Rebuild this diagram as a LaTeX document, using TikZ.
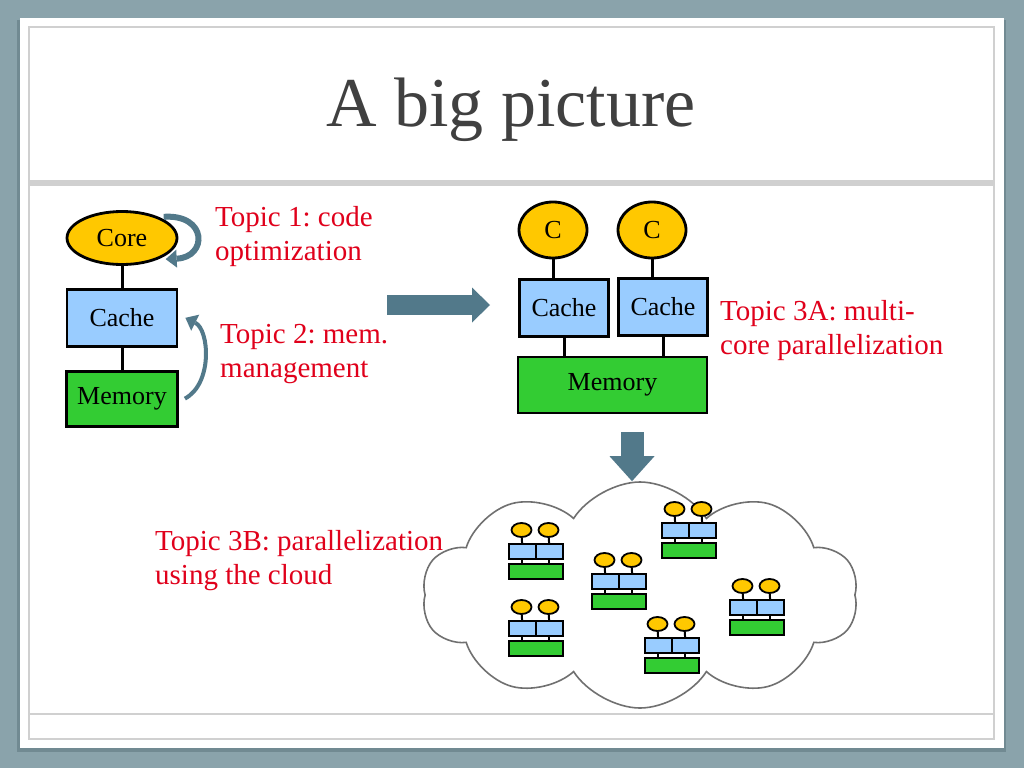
\documentclass[tikz,border=0pt]{standalone}
\usepackage{fontspec}
\setmainfont{Liberation Serif}
\usetikzlibrary{arrows.meta,positioning,shapes.geometric,shapes.symbols}
\definecolor{slidebg}{HTML}{8AA3AB}
\definecolor{slideshade}{HTML}{718A92}
\definecolor{frameline}{HTML}{D0D0D0}
\definecolor{titlegray}{HTML}{404040}
\definecolor{topicred}{HTML}{E0001B}
\definecolor{arrowslate}{HTML}{52798A}
\definecolor{coregold}{HTML}{FFC800}
\definecolor{cacheblue}{HTML}{99CCFF}
\definecolor{memgreen}{HTML}{33CC33}
\definecolor{cloudline}{HTML}{707070}
\newcommand{\titlefont}{\fontsize{70}{80}\selectfont}
\newcommand{\topicfont}{\fontsize{29}{34}\selectfont}
\newcommand{\boxfont}{\fontsize{26}{30}\selectfont}
\tikzset{
  corenode/.style={ellipse, draw, line width=2.8pt, fill=coregold, inner sep=0pt, font=\boxfont},
  cachenode/.style={rectangle, draw, line width=2.8pt, fill=cacheblue, inner sep=0pt, font=\boxfont},
  memnode/.style={cachenode, fill=memgreen},
  topic/.style={text=topicred, align=left, anchor=west, inner sep=0pt, font=\topicfont},
  link/.style={line width=3pt},
  looparr/.style={-{Triangle[length=11pt,width=18pt,line width=0pt]}, line width=#1, draw=arrowslate},
  blockarr/.style n args={3}{-{Triangle[length=#2,width=#3,line width=0pt]}, line width=#1, draw=arrowslate},
  minicore/.style={ellipse, draw, line width=1.8pt, fill=coregold, minimum width=20pt, minimum height=14pt, inner sep=0pt},
  minicache/.style={rectangle, draw, line width=1.8pt, fill=cacheblue, minimum width=27pt, minimum height=15pt, inner sep=0pt, anchor=north west},
  minimem/.style={minicache, fill=memgreen, minimum width=54pt},
  minilink/.style={line width=2pt},
  pics/machine/.style={code={
    \node[minicache] (-ka) at (0,0) {};
    \node[minicache] (-kb) at (27,0) {};
    \node[minimem] (-m) at (0,20) {};
    \node[minicore] (-ca) at (13.5,-13) {};
    \node[minicore] (-cb) at (40.5,-13) {};
    \draw[minilink] (-ca) -- (-ka);
    \draw[minilink] (-cb) -- (-kb);
    \draw[minilink] (-ka.south) -- (-ka.south |- -m.north);
    \draw[minilink] (-kb.south) -- (-kb.south |- -m.north);
  }}
}
\frenchspacing
\begin{document}
\begin{tikzpicture}[x=1pt, y=-1pt, node distance=22pt]
  % slide frame
  \fill[slidebg] (0,0) rectangle (1024,768);
  \fill[slideshade] (17,20) rectangle (1006,752);
  \fill[white] (20,18) rectangle (1004,748);
  \draw[frameline, line width=1.5pt] (29,27) rectangle (994,739);
  \fill[frameline] (29,180) rectangle (994,186);
  \draw[frameline, line width=1.5pt] (29,714) -- (994,714);
  \node[font=\titlefont, text=titlegray, anchor=base] (title) at (511,126) {A big picture};

  % single core
  \node[corenode, minimum width=110pt, minimum height=53pt] (core) at (122,238) {Core};
  \node[cachenode, minimum width=110pt, minimum height=57pt, below=of core] (cache) {Cache};
  \node[memnode, minimum width=111pt, minimum height=55pt, below=of cache] (mem) {Memory};
  \draw[link] (core) -- (cache);
  \draw[link] (cache) -- (mem);
  \draw[looparr=6pt] ([xshift=5pt]core.30) .. controls +(44,-3) and +(42,-2) .. ([xshift=7pt]core.-30);
  \draw[looparr=4pt] ([xshift=6pt]mem.east) .. controls +(28,-15) and +(24,12) .. ([xshift=7pt]cache.east);
  \node[topic] (topicA) at (215,237) {Topic 1: code\\optimization};
  \node[topic] (topicB) at (220,354) {Topic 2: mem.\\management};

  % multi core
  \coordinate (shiftL) at (387,305);
  \coordinate (shiftR) at (490,305);
  \draw[blockarr={20pt}{18pt}{35pt}] (shiftL) -- (shiftR);
  \node[corenode, minimum width=68pt, minimum height=56pt] (coreA) at (553,230) {C};
  \node[corenode, minimum width=68pt, minimum height=56pt] (coreB) at (652,230) {C};
  \node[cachenode, minimum width=89pt, minimum height=57pt] (cacheA) at (564,308) {Cache};
  \node[cachenode, minimum width=89pt, minimum height=57pt] (cacheB) at (663,307) {Cache};
  \node[memnode, minimum width=189pt, minimum height=56pt] (memB) at (612.5,385) {Memory};
  \draw[link] (coreA) -- (coreA |- cacheA.north);
  \draw[link] (coreB) -- (coreB |- cacheB.north);
  \draw[link] (cacheA) -- (cacheA |- memB.north);
  \draw[link] (cacheB) -- (cacheB |- memB.north);
  \node[topic] (topicC) at (720,331) {Topic 3A: multi-\\core parallelization};

  % cloud
  \node[cloud, draw=cloudline, line width=1.6pt, fill=white, cloud puffs=10, cloud puff arc=115,
    cloud ignores aspect, minimum width=436pt, minimum height=226pt] (sky) at (640,595) {};
  \coordinate (dropTop) at (632,432);
  \draw[blockarr={23pt}{25pt}{45pt}] (dropTop) -- (dropTop |- sky.north);
  \pic (u1) at (508,543) {machine};
  \pic (u2) at (508,620) {machine};
  \pic (u3) at (591,573) {machine};
  \pic (u4) at (661,522) {machine};
  \pic (u5) at (729,599) {machine};
  \pic (u6) at (644,637) {machine};
  \node[topic] (topicD) at (155,561) {Topic 3B: parallelization\\using the cloud};
\end{tikzpicture}
\end{document}
